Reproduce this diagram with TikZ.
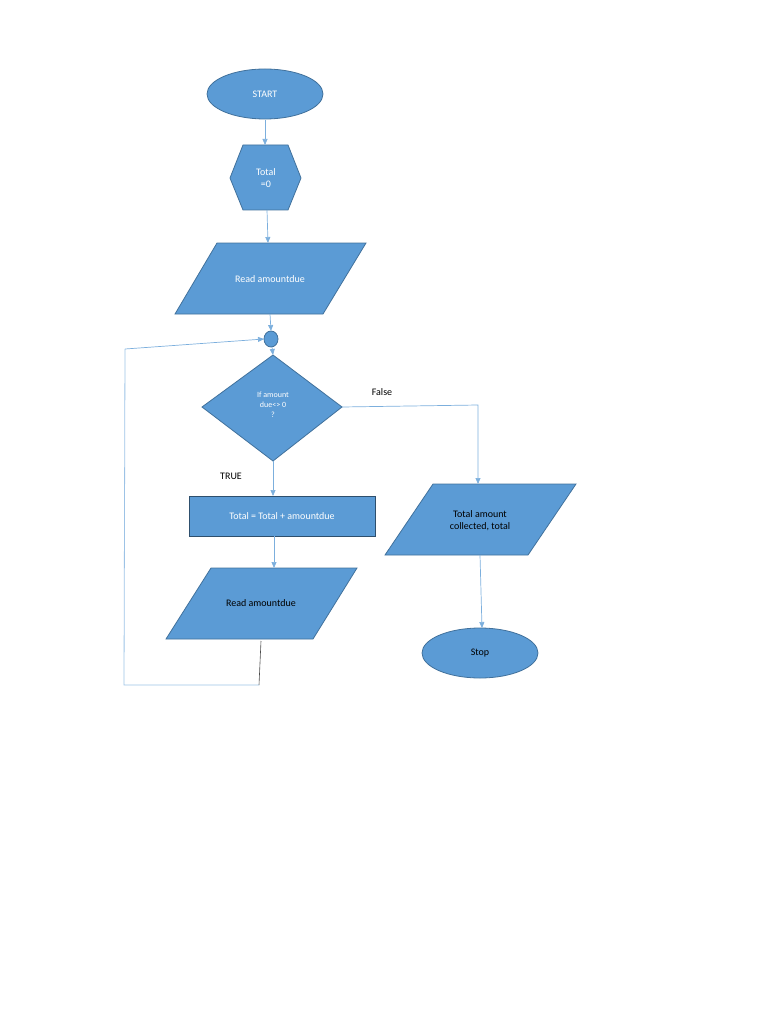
\documentclass[tikz,border=0pt]{standalone}
\usepackage{fontspec}
\setmainfont{Carlito}
\usetikzlibrary{arrows.meta}
\definecolor{fillb}{HTML}{5B9BD5}
\definecolor{edgeb}{HTML}{41719C}
\begin{document}
\begin{tikzpicture}[x=1pt,y=-1pt,
  shp/.style={fill=fillb,draw=edgeb,line width=0.8pt},
  wt/.style={text=white,font=\fontsize{10}{12}\selectfont,align=center},
  bt/.style={text=black,font=\fontsize{10}{12}\selectfont,align=center},
  conn/.style={draw=fillb!80,line width=0.7pt,-{Triangle[length=6pt,width=5pt]}},
  line/.style={draw=fillb!60,line width=0.8pt}]
\useasboundingbox (0,0) rectangle (768,1024);
% shapes
\draw[shp] (265,94) ellipse [x radius=58,y radius=25];
\node[wt] (start) at (265,94) {START};
\draw[shp] (243,145) -- (288,145) -- (301,178) -- (288,210) -- (243,210) -- (230,178) -- cycle;
\node[wt] (tot0) at (266,178) {Total\\=0};
\draw[shp] (217,243) -- (366,243) -- (323,314) -- (175,314) -- cycle;
\node[wt] (read1) at (270,279) {Read amountdue};
\draw[shp] (271,339) ellipse [x radius=7,y radius=8];
\coordinate (circ) at (271,339);
\draw[shp] (273,355) -- (342,407) -- (273,461) -- (202,407) -- cycle;
\node[wt,font=\fontsize{8}{10}\selectfont] (dec) at (273,405) {If amount\\due<> 0\\?};
\draw[shp,draw=edgeb!70!black] (189,496) rectangle (375,536);
\node[wt] (add) at (282,516) {Total = Total + amountdue};
\draw[shp] (211,568) -- (357,568) -- (313,639) -- (166,639) -- cycle;
\node[bt] (read2) at (261,603) {Read amountdue};
\draw[shp] (433,484) -- (576,484) -- (528,555) -- (385,555) -- cycle;
\node[bt] (out) at (480,521) {Total amount\\collected, total};
\draw[shp] (480,653) ellipse [x radius=58,y radius=25];
\node[bt] (stop) at (480,653) {Stop};
% labels
\node[bt] (lf) at (382,392) {False};
\node[bt] (lt) at (231,476) {TRUE};
% connectors
\coordinate (c1a) at (265,120); \coordinate (c1b) at (265,145);
\draw[conn] (c1a) -- (c1b);
\coordinate (c2a) at (267,210); \coordinate (c2b) at (268,243);
\draw[conn] (c2a) -- (c2b);
\coordinate (c3a) at (270,314); \coordinate (c3b) at (271,331);
\draw[conn] (c3a) -- (c3b);
\coordinate (c4a) at (272,347); \coordinate (c4b) at (273,355);
\draw[conn] (c4a) -- (c4b);
\coordinate (c5a) at (342,407); \coordinate (c5m) at (478,405); \coordinate (c5b) at (478,484);
\draw[conn] (c5a) -- (c5m) -- (c5b);
\coordinate (c6a) at (273,461); \coordinate (c6b) at (273,496);
\draw[conn] (c6a) -- (c6b);
\coordinate (c7a) at (274,536); \coordinate (c7b) at (274,568);
\draw[conn] (c7a) -- (c7b);
\coordinate (c8a) at (480,555); \coordinate (c8b) at (482,628);
\draw[conn] (c8a) -- (c8b);
\coordinate (l1) at (261,641); \coordinate (l2) at (259,685);
\coordinate (l3) at (124,685); \coordinate (l4) at (125,349); \coordinate (l5) at (264,339);
\draw[black!70,line width=0.6pt] (l1) -- (l2);
\draw[line] (l2) -- (l3) -- (l4);
\draw[conn] (l4) -- (l5);
\end{tikzpicture}
\end{document}
